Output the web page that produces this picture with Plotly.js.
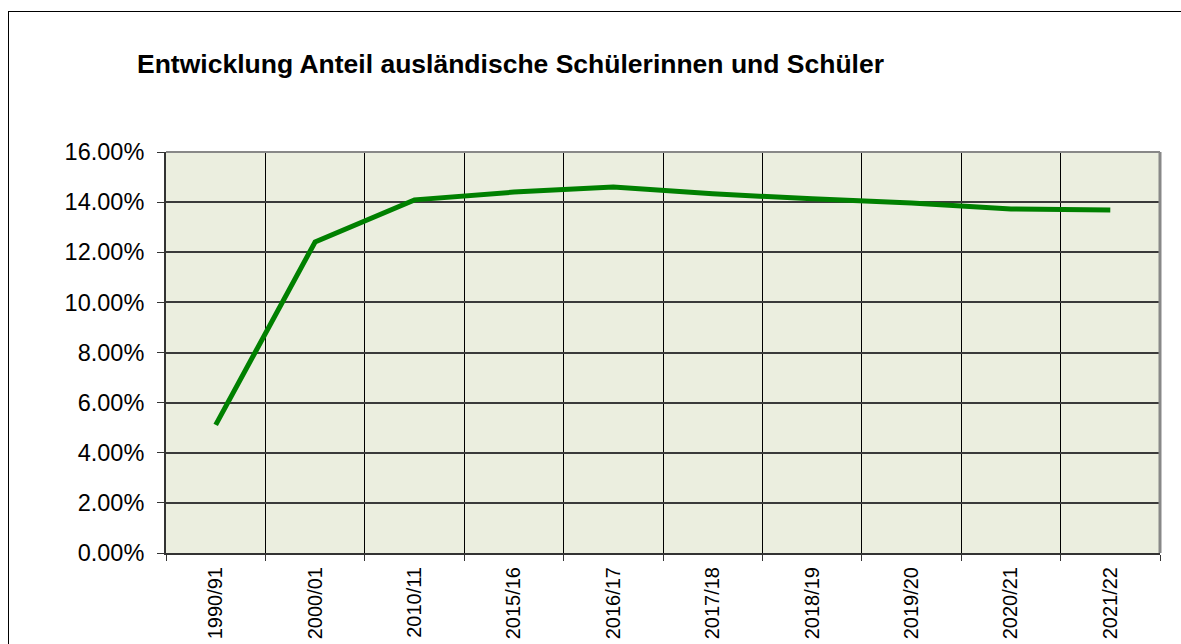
<!DOCTYPE html>
<html>
<head>
<meta charset="utf-8">
<script src="https://cdn.plot.ly/plotly-3.0.1.min.js"></script>
<style>
html,body{margin:0;padding:0;background:#fff;}
#frame{position:absolute;left:8px;top:11px;width:1200px;height:700px;border-left:1px solid #000;border-top:1px solid #000;pointer-events:none;z-index:5;}
#chart{width:1181px;height:644px;}
</style>
</head>
<body>
<div id="frame"></div>
<div id="chart"></div>
<script>
const categories = ['1990/91','2000/01','2010/11','2015/16','2016/17','2017/18','2018/19','2019/20','2020/21','2021/22'];
const shares = [0.0511, 0.1241, 0.1409, 0.1440, 0.1460, 0.1433, 0.1413, 0.1397, 0.1373, 0.1369];
const chartTitle = 'Entwicklung Anteil ausländische Schülerinnen und Schüler';

const trace = {
  type: 'scatter', mode: 'lines',
  x: categories, y: shares,
  line: {color: '#008000', width: 5},
  hoverinfo: 'x+y'
};
const layout = {
  width: 1181, height: 644,
  margin: {l: 166, r: 21, t: 152, b: 91},
  paper_bgcolor: '#ffffff',
  plot_bgcolor: '#EBEEDF',
  font: {family: 'Liberation Sans, Arial, sans-serif', color: '#000'},
  showlegend: false,
  title: {
    text: '<b>' + chartTitle + '</b>',
    font: {size: 26.5, color: '#000', family: 'Liberation Sans, Arial, sans-serif'},
    xref: 'container', yref: 'container',
    x: 137/1181, xanchor: 'left',
    y: 1 - 64/644, yanchor: 'middle'
  },
  xaxis: {
    type: 'category',
    range: [-0.5, 9.5],
    tickson: 'boundaries',
    showgrid: true, gridcolor: '#000', gridwidth: 1,
    showline: true, linecolor: '#333', linewidth: 2,
    ticks: 'outside', ticklen: 6, tickcolor: '#333', tickwidth: 1,
    ticklabelstandoff: 4,
    tickangle: -90,
    tickfont: {size: 20, family: 'Liberation Sans, Arial, sans-serif', color: '#000'},
    zeroline: false, fixedrange: true
  },
  yaxis: {
    range: [0, 0.16],
    dtick: 0.02, tick0: 0,
    tickformat: '.2%',
    showgrid: true, gridcolor: '#3a3a3a', gridwidth: 1.5,
    showline: true, linecolor: '#333', linewidth: 2,
    ticks: 'outside', ticklen: 7, tickcolor: '#333', tickwidth: 1,
    ticklabelstandoff: 8,
    tickfont: {size: 23.5, family: 'Liberation Sans, Arial, sans-serif', color: '#000'},
    zeroline: false, fixedrange: true
  },
  shapes: [
    {type: 'line', xref: 'paper', yref: 'paper', x0: 0, x1: 1, y0: 1, y1: 1, line: {color: '#888', width: 2}},
    {type: 'line', xref: 'paper', yref: 'paper', x0: 1, x1: 1, y0: 0, y1: 1, line: {color: '#888', width: 3}}
  ]
};
Plotly.newPlot('chart', [trace], layout, {displayModeBar: false, staticPlot: false});
</script>
</body>
</html>
